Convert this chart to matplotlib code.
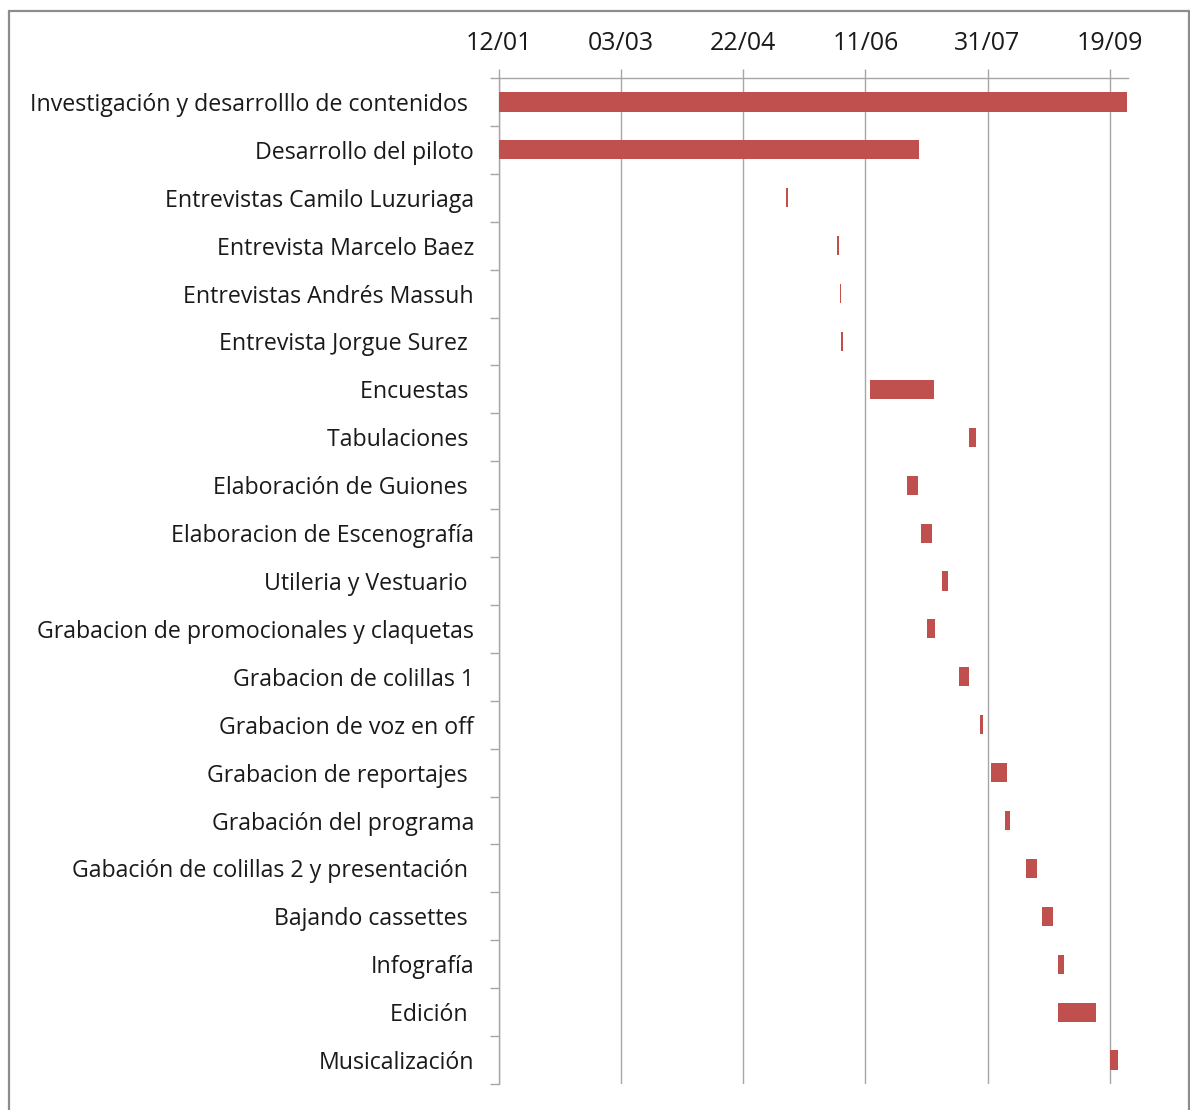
import matplotlib
matplotlib.use("Agg")
import matplotlib.pyplot as plt
from matplotlib.patches import Rectangle

tasks = [
    "Investigación y desarrolllo de contenidos ",
    "Desarrollo del piloto",
    "Entrevistas Camilo Luzuriaga",
    "Entrevista Marcelo Baez",
    "Entrevistas Andrés Massuh",
    "Entrevista Jorgue Surez ",
    "Encuestas ",
    "Tabulaciones ",
    "Elaboración de Guiones ",
    "Elaboracion de Escenografía",
    "Utileria y Vestuario ",
    "Grabacion de promocionales y claquetas",
    "Grabacion de colillas 1",
    "Grabacion de voz en off",
    "Grabacion de reportajes ",
    "Grabación del programa",
    "Gabación de colillas 2 y presentación ",
    "Bajando cassettes ",
    "Infografía",
    "Edición ",
    "Musicalización",
]
# days after 12/01
start_day = [0, 0, 117.5, 138.5, 139.4, 140.1, 152, 192.5, 167.2, 172.9, 181.4,
             175.1, 188.2, 197.1, 201.3, 207.2, 215.9, 222.3, 229.0, 229.0, 250.1]
duration = [257, 172, 0.9, 0.8, 0.6, 0.8, 26.2, 2.6, 4.2, 4.4, 2.6,
            3.2, 4.2, 1.1, 6.8, 2.0, 4.4, 4.7, 2.3, 15.4, 3.2]
tick_days = [0, 50, 100, 150, 200, 250]
tick_labels = ["12/01", "03/03", "22/04", "11/06", "31/07", "19/09"]
x_max = 257.5

W, H = 1190, 1110
fig = plt.figure(figsize=(W / 100, H / 100), dpi=100)
plt.rcParams['font.family'] = ['Open Sans', 'DejaVu Sans']

left, right, top, bottom = 499, 1128, 78, 1084
ax = fig.add_axes([left / W, 1 - bottom / H, (right - left) / W, (bottom - top) / H])

grid_c = "#a6a6a6"
bar_c = "#C0504D"
n = len(tasks)
ypos = list(range(n))
ax.barh(ypos, duration, left=start_day, height=0.4, color=bar_c,
        edgecolor="none", linewidth=0, zorder=3)

ax.set_xlim(0, x_max)
ax.set_ylim(n - 0.5, -0.5)

ax.xaxis.tick_top()
ax.set_xticks(tick_days)
ax.set_xticklabels(tick_labels, fontsize=18, color="#1a1a1a")
ax.tick_params(axis="x", which="major", direction="out", length=6.5, width=1,
               color=grid_c, pad=9)
ax.grid(axis="x", color=grid_c, linewidth=1, zorder=0)

ax.set_yticks(ypos)
ax.set_yticklabels(tasks, fontsize=16.7, color="#1a1a1a")
ax.tick_params(axis="y", which="major", length=0, pad=18)
ax.set_yticks([i + 0.5 for i in range(-1, n)], minor=True)
ax.tick_params(axis="y", which="minor", direction="out", length=6.5, width=1,
               color=grid_c)

for s in ["right", "bottom"]:
    ax.spines[s].set_visible(False)
for s in ["top", "left"]:
    ax.spines[s].set_color(grid_c)
    ax.spines[s].set_linewidth(1)

# outer chart border
fig.patches.append(Rectangle((9 / W, -0.01), (1189 - 9) / W, 1 - 11 / H + 0.01,
                             transform=fig.transFigure, fill=False,
                             edgecolor="#8c8c8c", linewidth=1.6))

fig.savefig("out.png", dpi=100)
